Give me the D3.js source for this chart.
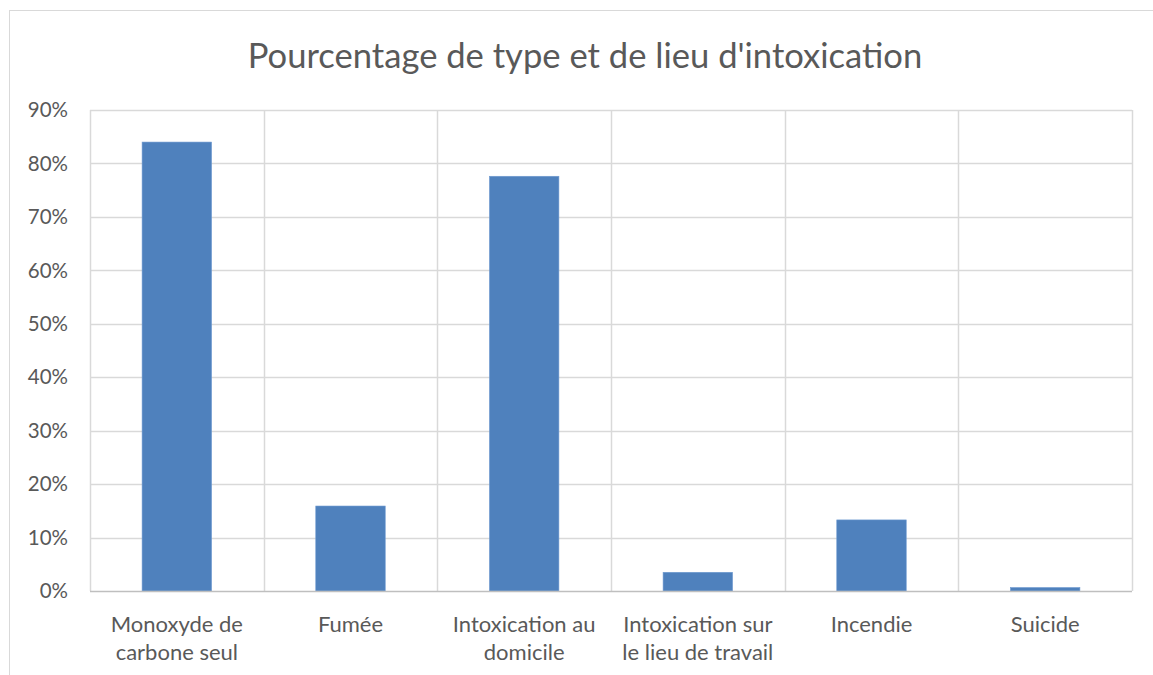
<!DOCTYPE html>
<html>
<head>
<meta charset="utf-8">
<script src="https://cdn.jsdelivr.net/npm/d3@7"></script>
<style>
  body { margin: 0; background: #fff; }
  text { font-family: Lato, "Open Sans", sans-serif; fill: #595959; }
</style>
</head>
<body>
<div id="chart"></div>
<script>
// --- Data ---
const categories = [
  ["Monoxyde de", "carbone seul"],
  ["Fumée"],
  ["Intoxication au", "domicile"],
  ["Intoxication sur", "le lieu de travail"],
  ["Incendie"],
  ["Suicide"]
];
const values = [0.84, 0.159, 0.776, 0.035, 0.133, 0.0065];
const yTicks = [0, 0.1, 0.2, 0.3, 0.4, 0.5, 0.6, 0.7, 0.8, 0.9];
const title = "Pourcentage de type et de lieu d'intoxication";

const width = 1153, height = 675;
const margin = {top: 110, right: 21, bottom: 84, left: 90};

const svg = d3.select("#chart").append("svg")
  .attr("width", width)
  .attr("height", height);

// chart frame (runs off the right and bottom edges)
svg.append("rect")
  .attr("x", 9.5).attr("y", 10.5)
  .attr("width", width + 20).attr("height", height + 20)
  .attr("fill", "none")
  .attr("stroke", "#d9d9d9");

svg.append("text")
  .attr("x", 585).attr("y", 68)
  .attr("text-anchor", "middle")
  .attr("font-size", "34.6px")
  .text(title);

const x = d3.scaleBand()
  .domain(d3.range(categories.length))
  .range([margin.left, width - margin.right])
  .padding(0);

const y = d3.scaleLinear()
  .domain([0, 0.9])
  .range([height - margin.bottom, margin.top]);

const g = svg.append("g");

// horizontal grid
g.selectAll(".hgrid")
  .data(yTicks.slice(1))
  .enter().append("line")
  .attr("x1", margin.left).attr("x2", width - margin.right)
  .attr("y1", d => Math.round(y(d)) + 0.5)
  .attr("y2", d => Math.round(y(d)) + 0.5)
  .attr("stroke", "#d9d9d9").attr("stroke-width", 1.5);

// vertical grid at category boundaries
const bounds = d3.range(categories.length + 1).map(i =>
  i < categories.length ? x(i) : x(i - 1) + x.bandwidth());
g.selectAll(".vgrid")
  .data(bounds)
  .enter().append("line")
  .attr("x1", d => Math.round(d) + 0.5).attr("x2", d => Math.round(d) + 0.5)
  .attr("y1", y(0.9)).attr("y2", y(0))
  .attr("stroke", "#d9d9d9").attr("stroke-width", 1.5);

// bars (gap width 150%)
const barW = x.bandwidth() / 2.5;
g.selectAll(".bar")
  .data(values)
  .enter().append("rect")
  .attr("x", (d, i) => x(i) + (x.bandwidth() - barW) / 2)
  .attr("y", d => y(d))
  .attr("width", barW)
  .attr("height", d => y(0) - y(d))
  .attr("fill", "#4f81bd")
  .attr("stroke", "#6f9ad0")
  .attr("stroke-width", 0.6);

// x axis line
g.append("line")
  .attr("x1", margin.left).attr("x2", width - margin.right)
  .attr("y1", Math.round(y(0)) + 0.5).attr("y2", Math.round(y(0)) + 0.5)
  .attr("stroke", "#bfbfbf").attr("stroke-width", 1.5);

// y tick labels
g.selectAll(".ylab")
  .data(yTicks)
  .enter().append("text")
  .attr("x", 68)
  .attr("y", d => y(d))
  .attr("dy", "0.35em")
  .attr("text-anchor", "end")
  .attr("font-size", "20.5px")
  .text(d3.format(".0%"));

// x category labels
const xl = g.selectAll(".xlab")
  .data(categories)
  .enter().append("text")
  .attr("text-anchor", "middle")
  .attr("font-size", "22px")
  .attr("transform", (d, i) => `translate(${x(i) + x.bandwidth() / 2},632)`);
xl.selectAll("tspan")
  .data(d => d)
  .enter().append("tspan")
  .attr("x", 0)
  .attr("y", (d, i) => i * 28)
  .text(d => d);
</script>
</body>
</html>
